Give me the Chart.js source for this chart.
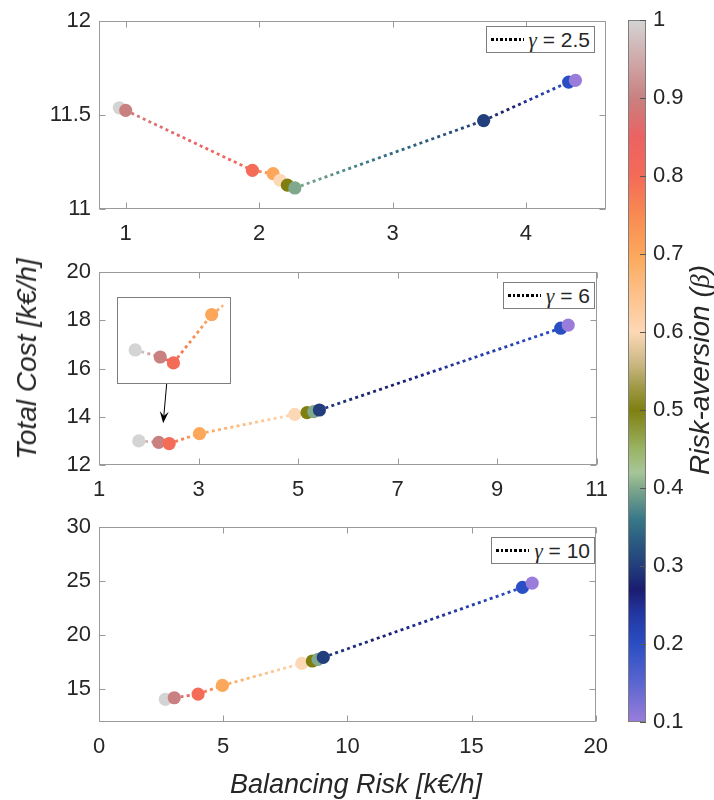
<!DOCTYPE html>
<html><head><meta charset="utf-8">
<script src="https://cdn.jsdelivr.net/npm/chart.js@4/dist/chart.umd.min.js"></script>
<style>
html,body{margin:0;padding:0;background:#fff;}
#fig{position:relative;width:714px;height:800px;overflow:hidden;font-family:'Liberation Sans',Arial,Helvetica,sans-serif;color:#262626;}
canvas{display:block;}
.cv{position:absolute;}
.legend{position:absolute;right:119px;height:25px;border:1px solid #7d7d7d;background:#fff;display:flex;align-items:center;padding:0 4px 0 4px;font-size:21px;line-height:25px;white-space:nowrap;}
.legend .ln{display:inline-block;width:33px;height:2.6px;background:repeating-linear-gradient(90deg,#000 0 2.6px,transparent 2.6px 4.6px);margin-right:5px;}
.g{font-family:'Liberation Serif','DejaVu Serif',serif;font-style:italic;}
.title{position:absolute;font-style:italic;font-size:28px;line-height:28px;white-space:nowrap;color:#262626;}
#inset{position:absolute;left:117px;top:297px;width:112px;height:85px;border:1px solid #7d7d7d;background:#fff;}
</style>
</head><body>
<div id="fig">
  <canvas id="cTop" class="cv" width="620" height="260" style="left:0;top:0"></canvas>
  <canvas id="cMid" class="cv" width="620" height="270" style="left:0;top:250px"></canvas>
  <canvas id="cBot" class="cv" width="620" height="265" style="left:0;top:505px"></canvas>
  <canvas id="cBar" class="cv" width="94" height="800" style="left:620px;top:0"></canvas>
  <div id="inset"><canvas id="cInset" width="112" height="85"></canvas></div>
  <div id="legends"></div>
  <div class="title" style="left:27px;top:359px;transform:translate(-50%,-50%) rotate(-90deg);">Total Cost [k€/h]</div>
  <div class="title" style="left:356px;top:770px;transform:translateX(-50%);font-size:27px;">Balancing Risk [k€/h]</div>
  <div class="title" style="left:700px;top:370px;transform:translate(-50%,-50%) rotate(-90deg);">Risk-aversion (<span class="g">β</span>)</div>
</div>
<script>
// ---------------- data ----------------
const riskAversion = [1, 0.9, 0.8, 0.7, 0.6, 0.5, 0.4, 0.3, 0.2, 0.1];
const gammaLevels = [2.5, 6, 10];

const riskG25 = [0.952, 1.00, 1.95, 2.105, 2.157, 2.212, 2.268, 3.683, 4.32, 4.371];
const costG25 = [11.539, 11.525, 11.206, 11.188, 11.153, 11.127, 11.112, 11.471, 11.676, 11.685];

const riskG6 = [1.80, 2.20, 2.41, 3.02, 4.935, 5.18, 5.316, 5.43, 10.28, 10.43];
const costG6 = [13.0, 12.94, 12.89, 13.3, 14.10, 14.17, 14.21, 14.28, 17.67, 17.80];

const riskG10 = [2.67, 3.03, 3.99, 4.97, 8.17, 8.59, 8.82, 9.03, 17.05, 17.44];
const costG10 = [14.05, 14.2, 14.54, 15.34, 17.38, 17.6, 17.75, 17.94, 24.41, 24.81];

const topXTicks = [1, 2, 3, 4];
const topYTicks = [11, 11.5, 12];
const midXTicks = [1, 3, 5, 7, 9, 11];
const midYTicks = [12, 14, 16, 18, 20];
const botXTicks = [0, 5, 10, 15, 20];
const botYTicks = [15, 20, 25, 30];
const colorbarTicks = [0.1, 0.2, 0.3, 0.4, 0.5, 0.6, 0.7, 0.8, 0.9, 1];

// ---------------- styling ----------------
const FONT = "'Liberation Sans', Arial, Helvetica, sans-serif";
const AXIS_GREY = '#9a9a9a';
const TEXT = '#262626';
const TICK_SIZE = 22;

const cmapStops = [[0.10,'#9a7ddb'],[0.15,'#5a66d0'],[0.20,'#2a4ec4'],[0.24,'#2236a0'],[0.27,'#1b1d70'],
  [0.30,'#223e7c'],[0.33,'#2a5a80'],[0.36,'#377888'],[0.40,'#7fa88c'],[0.42,'#a6c698'],[0.45,'#9ab464'],
  [0.50,'#7f7f10'],[0.53,'#a09a48'],[0.56,'#cbb883'],[0.60,'#fdd8b6'],[0.65,'#fdc088'],[0.70,'#fca75a'],
  [0.75,'#f98a52'],[0.80,'#f46b58'],[0.85,'#ec6262'],[0.90,'#c98080'],[0.95,'#cfaaaa'],[1.00,'#d4d4d4']];

function hexRgb(h){return [parseInt(h.substr(1,2),16),parseInt(h.substr(3,2),16),parseInt(h.substr(5,2),16)];}
function cmap(b){
  if (b <= cmapStops[0][0]) return cmapStops[0][1];
  for (let i = 1; i < cmapStops.length; i++){
    if (b <= cmapStops[i][0]){
      const [b0,c0] = cmapStops[i-1], [b1,c1] = cmapStops[i];
      const t = (b-b0)/(b1-b0), A = hexRgb(c0), B = hexRgb(c1);
      return 'rgb(' + A.map((v,k)=>Math.round(v+(B[k]-v)*t)).join(',') + ')';
    }
  }
  return cmapStops[cmapStops.length-1][1];
}
function segGrad(c){
  const ctx = c.chart.ctx;
  const b0 = riskAversion[c.p0DataIndex], b1 = riskAversion[c.p1DataIndex];
  const g = ctx.createLinearGradient(c.p0.x, c.p0.y, c.p1.x, c.p1.y);
  for (let k = 0; k <= 10; k++){ const t = k/10; g.addColorStop(t, cmap(b0 + (b1-b0)*t)); }
  return g;
}
const fmt = v => String(Math.round(v*1000)/1000);

const boxPlugin = {
  id: 'box',
  beforeDatasetsDraw(chart){
    const {ctx, chartArea: a, scales: {x, y}} = chart;
    ctx.save();
    ctx.strokeStyle = AXIS_GREY; ctx.lineWidth = 1;
    const L = Math.round(a.left)+0.5, R = Math.round(a.right)-0.5, T = Math.round(a.top)+0.5, B = Math.round(a.bottom)-0.5;
    ctx.strokeRect(L, T, R-L, B-T);
    ctx.beginPath();
    const tl = 6;
    x.ticks.forEach(t => { const p = Math.round(x.getPixelForValue(t.value))+0.5; ctx.moveTo(p,B); ctx.lineTo(p,B-tl); ctx.moveTo(p,T); ctx.lineTo(p,T+tl); });
    y.ticks.forEach(t => { const p = Math.round(y.getPixelForValue(t.value))+0.5; ctx.moveTo(L,p); ctx.lineTo(L+tl,p); ctx.moveTo(R,p); ctx.lineTo(R-tl,p); });
    ctx.stroke();
    ctx.restore();
  }
};

function dataset(xs, ys){
  return {
    data: xs.map((x,i)=>({x, y: ys[i]})),
    showLine: true, borderColor: '#888', borderWidth: 2.8, borderDash: [3, 3.3], borderCapStyle: 'butt',
    pointRadius: 6.6, pointHoverRadius: 6.6, pointBorderWidth: 0, pointHoverBorderWidth: 0,
    pointBackgroundColor: riskAversion.map(cmap),
    segment: { borderColor: c => segGrad(c) },
    clip: 0
  };
}

function axis(min, max, ticksArr, fit, padding){
  return {
    type: 'linear', min, max,
    afterBuildTicks: s => { s.ticks = ticksArr.map(v => ({value: v})); },
    afterFit: fit,
    grid: {display: false, drawTicks: false},
    border: {display: false},
    ticks: {font: {family: FONT, size: TICK_SIZE}, color: TEXT, padding, maxRotation: 0, autoSkip: false, callback: v => fmt(v)}
  };
}

function panel(id, xs, ys, xr, xt, yr, yt, padTop, xH, extra){
  return new Chart(document.getElementById(id), {
    type: 'scatter',
    data: {datasets: [dataset(xs, ys)]},
    options: {
      responsive: false, animation: false, events: [],
      layout: {padding: {top: padTop, right: 14, left: 0, bottom: 0}},
      plugins: {legend: {display: false}, tooltip: {enabled: false}},
      scales: {
        x: axis(xr[0], xr[1], xt, s => { s.height = xH; }, 12),
        y: axis(yr[0], yr[1], yt, s => { s.width = 99; }, 8)
      }
    },
    plugins: [boxPlugin].concat(extra || [])
  });
}

// arrow pointing from inset to the zoomed cluster (middle panel data coords)
const insetArrow = {from: [2.36, 15.36], to: [2.29, 13.73]};
const arrowPlugin = {
  id: 'arrow',
  afterDatasetsDraw(chart){
    const {ctx, scales: {x, y}} = chart;
    const x0 = x.getPixelForValue(insetArrow.from[0]), y0 = y.getPixelForValue(insetArrow.from[1]);
    const x1 = x.getPixelForValue(insetArrow.to[0]), y1 = y.getPixelForValue(insetArrow.to[1]);
    const len = Math.hypot(x1-x0, y1-y0), dx = (x1-x0)/len, dy = (y1-y0)/len, nx = -dy, ny = dx;
    const HL = 12, HW = 4.5;
    ctx.save();
    ctx.strokeStyle = '#000'; ctx.fillStyle = '#000'; ctx.lineWidth = 1;
    ctx.beginPath(); ctx.moveTo(x0, y0); ctx.lineTo(x1 - dx*6, y1 - dy*6); ctx.stroke();
    ctx.beginPath();
    ctx.moveTo(x1, y1);
    ctx.lineTo(x1 - dx*HL + nx*HW, y1 - dy*HL + ny*HW);
    ctx.lineTo(x1 - dx*HL*0.6, y1 - dy*HL*0.6);
    ctx.lineTo(x1 - dx*HL - nx*HW, y1 - dy*HL - ny*HW);
    ctx.closePath(); ctx.fill();
    ctx.restore();
  }
};

panel('cTop', riskG25, costG25, [0.8, 4.6], topXTicks, [11, 12], topYTicks, 17, 51);
panel('cMid', riskG6, costG6, [1, 11], midXTicks, [12, 20], midYTicks, 22, 55, [arrowPlugin]);
panel('cBot', riskG10, costG10, [0, 20], botXTicks, [12, 30], botYTicks, 22, 48.5);

// inset (zoom on low-risk end of gamma = 6)
new Chart(document.getElementById('cInset'), {
  type: 'scatter',
  data: {datasets: [dataset(riskG6, costG6)]},
  options: {
    responsive: false, animation: false, events: [],
    layout: {padding: 0},
    plugins: {legend: {display: false}, tooltip: {enabled: false}},
    scales: {
      x: {type: 'linear', display: false, min: 1.631, max: 3.207},
      y: {type: 'linear', display: false, min: 12.775, max: 13.386}
    }
  }
});

// colorbar
const cbPlugin = {
  id: 'cb',
  afterDatasetsDraw(chart){
    const {ctx, chartArea: a, scales: {y}} = chart;
    ctx.save();
    ctx.strokeStyle = '#7d7d7d'; ctx.lineWidth = 1;
    ctx.strokeRect(Math.round(a.left)+0.5, Math.round(a.top)+0.5, Math.round(a.right-a.left)-1, Math.round(a.bottom-a.top)-1);
    ctx.strokeStyle = '#555';
    ctx.beginPath();
    y.ticks.forEach(t => { const p = Math.round(y.getPixelForValue(t.value))+0.5; ctx.moveTo(a.right, p); ctx.lineTo(a.right-6, p); });
    ctx.stroke();
    ctx.restore();
  }
};
new Chart(document.getElementById('cBar'), {
  type: 'bar',
  data: {labels: [''], datasets: [{
    data: [[colorbarTicks[0], colorbarTicks[colorbarTicks.length-1]]],
    backgroundColor: c => {
      const ch = c.chart, a = ch.chartArea;
      if (!a) return '#ccc';
      const g = ch.ctx.createLinearGradient(0, a.bottom, 0, a.top);
      for (let k = 0; k <= 90; k++) g.addColorStop(k/90, cmap(0.1 + 0.9*k/90));
      return g;
    },
    borderWidth: 0, barPercentage: 1, categoryPercentage: 1, borderSkipped: false
  }]},
  options: {
    responsive: false, animation: false, events: [],
    layout: {padding: {left: 8, top: 17, bottom: 78, right: 0}},
    plugins: {legend: {display: false}, tooltip: {enabled: false}},
    scales: {
      x: {display: false},
      y: Object.assign(axis(0.1, 1, colorbarTicks, s => { s.width = 68; }, 7), {position: 'right'})
    }
  },
  plugins: [cbPlugin]
});

// legends
const legendTops = [26, 282, 537];
const lg = document.getElementById('legends');
gammaLevels.forEach((g, i) => {
  const d = document.createElement('div');
  d.className = 'legend';
  d.style.top = legendTops[i] + 'px';
  d.innerHTML = '<span class="ln"></span><span><span class="g">γ</span> = ' + g + '</span>';
  lg.appendChild(d);
});
</script>
</body></html>
